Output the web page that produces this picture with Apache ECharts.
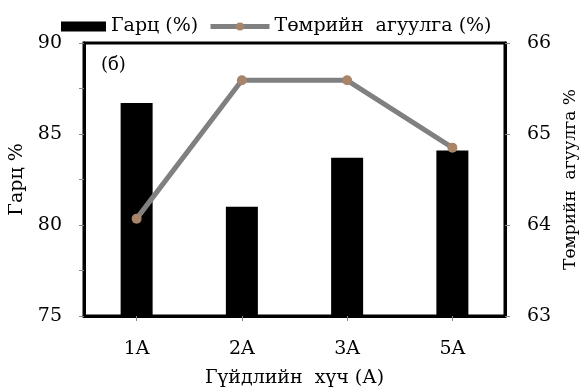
<!DOCTYPE html>
<html><head><meta charset="utf-8">
<script src="https://cdn.jsdelivr.net/npm/echarts@6/dist/echarts.min.js"></script>
<style>html,body{margin:0;padding:0;background:#fff}#c{width:581px;height:392px}</style>
</head><body><div id="c"></div>
<script>
const categories = ['1A', '2A', '3A', '5A'];
const yieldValues = [86.7, 81.0, 83.7, 84.1];
const ironValues = [64.07, 65.59, 65.59, 64.85];
const leftTicks = [75, 80, 85, 90];
const rightTicks = [63, 64, 65, 66];
const seriesNames = ['Гарц (%)', 'Төмрийн  агуулга (%)'];
const xName = 'Гүйдлийн  хүч (А)';
const leftName = 'Гарц %';
const rightName = 'Төмрийн  агуулга %';
const panelLabel = '(б)';

const font = 'DejaVu Serif';
const chart = echarts.init(document.getElementById('c'));
chart.setOption({
  animation: false,
  textStyle: {fontFamily: font},
  grid: {left: 84, right: 76, top: 43, bottom: 76, show: true, borderColor: '#000', borderWidth: 3,
    backgroundColor: 'transparent', outerBoundsMode: 'none', containLabel: false},
  legend: [{
    top: 12, left: 56, padding: 5,
    textStyle: {fontFamily: font, fontSize: 19, color: '#000'},
    data: [{name: seriesNames[0], icon: 'rect', itemStyle: {color: '#000'}}],
    itemWidth: 45, itemHeight: 10
  }, {
    top: 12, left: 203, padding: 5,
    textStyle: {fontFamily: font, fontSize: 19, color: '#000'},
    data: [{name: seriesNames[1], lineStyle: {width: 5, color: '#808080'}}],
    itemWidth: 59, itemHeight: 10
  }],
  graphic: [{type: 'text', left: 101, top: 56, style: {text: panelLabel, font: '18px "DejaVu Serif"', fill: '#000'}}],
  xAxis: {
    type: 'category', data: categories,
    name: xName, nameLocation: 'middle', nameGap: 53,
    nameTextStyle: {fontFamily: font, fontSize: 19, color: '#000'},
    axisLine: {show: true, lineStyle: {color: '#000', width: 3}},
    axisTick: {show: true, alignWithLabel: true, length: 5, lineStyle: {color: '#888'}},
    axisLabel: {fontFamily: font, fontSize: 19, color: '#000', margin: 24}
  },
  yAxis: [{
    type: 'value', min: leftTicks[0], max: leftTicks[leftTicks.length - 1], interval: 2.5,
    name: leftName, nameLocation: 'middle', nameGap: 44, nameRotate: 90,
    nameTextStyle: {fontFamily: font, fontSize: 19, color: '#000'},
    splitLine: {show: false},
    axisLine: {show: true, lineStyle: {color: '#000', width: 3}},
    axisTick: {show: true, length: 5, lineStyle: {color: '#888'}},
    axisLabel: {fontFamily: font, fontSize: 19, color: '#000', margin: 22,
      formatter: v => leftTicks.includes(v) ? String(v) : ''}
  }, {
    type: 'value', min: rightTicks[0], max: rightTicks[rightTicks.length - 1], interval: 1,
    position: 'right',
    name: rightName, nameLocation: 'middle', nameGap: 56, nameRotate: 90,
    nameTextStyle: {fontFamily: font, fontSize: 17, color: '#000'},
    splitLine: {show: false},
    axisLine: {show: true, lineStyle: {color: '#000', width: 3}},
    axisTick: {show: true, length: 5, lineStyle: {color: '#888'}},
    axisLabel: {fontFamily: font, fontSize: 19, color: '#000', margin: 22}
  }],
  series: [{
    name: seriesNames[0], type: 'bar', data: yieldValues, barWidth: 32,
    itemStyle: {color: '#000'}
  }, {
    name: seriesNames[1], type: 'line', yAxisIndex: 1, data: ironValues,
    symbol: 'circle', symbolSize: 10,
    lineStyle: {color: '#808080', width: 5},
    itemStyle: {color: '#a8846a', borderWidth: 0}
  }]
});
</script></body></html>
